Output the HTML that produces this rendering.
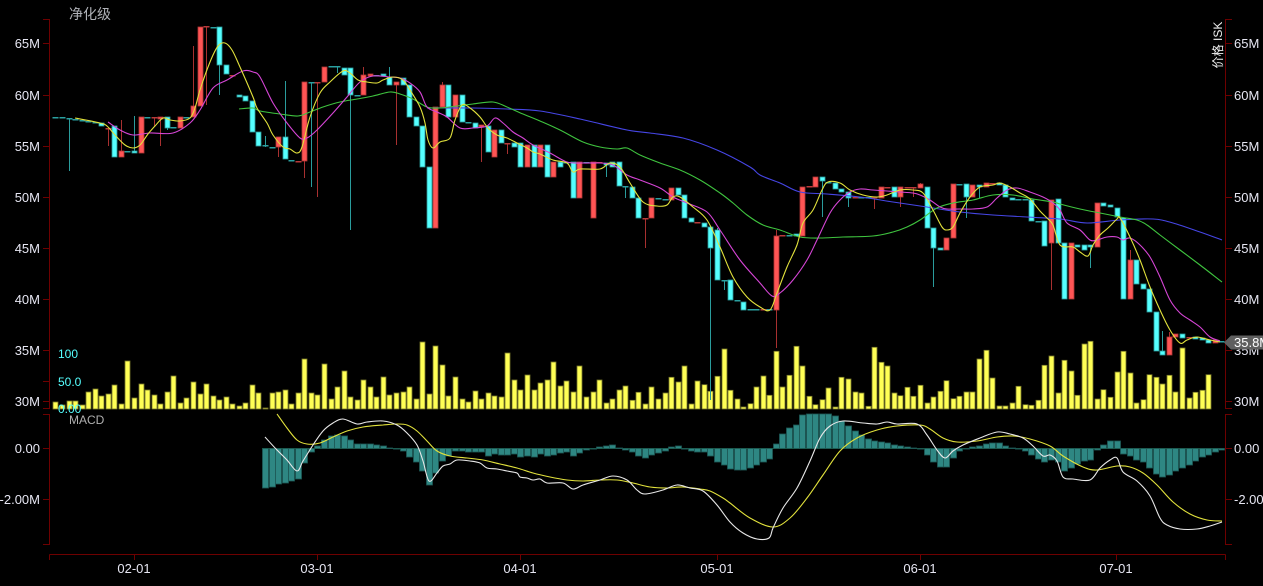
<!DOCTYPE html>
<html><head><meta charset="utf-8">
<style>
html,body{margin:0;padding:0;background:#000;width:1263px;height:586px;overflow:hidden}
svg{display:block}
text{font-family:"WenQuanYi Zen Hei","Liberation Sans","Noto Sans CJK SC",sans-serif;}
</style></head><body>
<svg id="c" width="1263" height="586" viewBox="0 0 1263 586" xmlns="http://www.w3.org/2000/svg">
<rect width="1263" height="586" fill="#000"/>
<g id="vol"></g>
<g id="hist"></g>
<g id="macdl" fill="none"></g>
<g id="cand"></g>
<g id="ma" fill="none"></g>
<g id="axes" stroke="#6e0000" stroke-width="1" fill="none">
  <path d="M49.5 19V409M1225.5 19V409M49.5 414V545M1225.5 414V545M49.5 554.5H1225.5"/>
  <path d="M43 19.5H49.5M43 43.5H49.5M43 95.5H49.5M43 146.5H49.5M43 197.5H49.5M43 248.5H49.5M43 299.5H49.5M43 350.5H49.5M43 381.5H49.5M43 401.5H49.5M43 408.5H49.5"/>
  <path d="M1225.5 19.5H1232M1225.5 43.5H1232M1225.5 95.5H1232M1225.5 146.5H1232M1225.5 197.5H1232M1225.5 248.5H1232M1225.5 299.5H1232M1225.5 350.5H1232M1225.5 401.5H1232M1225.5 408.5H1232"/>
  <path d="M43 414.5H49.5M43 448.5H49.5M43 499.5H49.5M43 544.5H49.5M1225.5 414.5H1232M1225.5 448.5H1232M1225.5 499.5H1232M1225.5 544.5H1232"/>
  <path d="M49.5 554.5V560M134.5 554.5V560M317.5 554.5V560M520.5 554.5V560M717.5 554.5V560M920.5 554.5V560M1116.5 554.5V560M1225.5 554.5V560"/>
</g>
<g font-size="13" fill="#e6e6f2" text-anchor="end">
  <text x="40" y="48">65M</text><text x="40" y="100">60M</text><text x="40" y="151">55M</text>
  <text x="40" y="202">50M</text><text x="40" y="253">45M</text><text x="40" y="304">40M</text>
  <text x="40" y="355">35M</text><text x="40" y="406">30M</text>
  <text x="40" y="453">0.00</text><text x="40" y="504">-2.00M</text>
</g>
<g font-size="13" fill="#e6e6f2">
  <text x="1234" y="48">65M</text><text x="1234" y="100">60M</text><text x="1234" y="151">55M</text>
  <text x="1234" y="202">50M</text><text x="1234" y="253">45M</text><text x="1234" y="304">40M</text>
  <text x="1234" y="355">35M</text><text x="1234" y="406">30M</text>
  <text x="1234" y="453">0.00</text><text x="1234" y="504">-2.00M</text>
</g>
<g font-size="12" fill="#55ffff">
  <text x="58" y="358">100</text><text x="58" y="386">50.0</text><text x="58" y="413">0.00</text>
</g>
<g font-size="13" fill="#e6e6f2" text-anchor="middle">
  <text x="134" y="573">02-01</text><text x="317" y="573">03-01</text><text x="520" y="573">04-01</text>
  <text x="717" y="573">05-01</text><text x="920" y="573">06-01</text><text x="1116" y="573">07-01</text>
</g>
<text x="69" y="19" font-size="14" fill="#b0b2b8">净化级</text>
<text x="69" y="424" font-size="12" fill="#b0b0b0">MACD</text>
<text transform="translate(1222,45) rotate(-90)" font-size="12" fill="#f0f0f0" text-anchor="middle">价格 ISK</text>
<polygon points="1224,342.5 1231,335.5 1263,335.5 1263,349.5 1231,349.5" fill="#5f5f5f"/>
<text x="1234" y="347" font-size="13" fill="#ffffff">35.8M</text>
</svg>
<script>
const NS="http://www.w3.org/2000/svg";
function el(t,a,p){const e=document.createElementNS(NS,t);for(const k in a)e.setAttribute(k,a[k]);p.appendChild(e);return e;}
const X=i=>Math.round(134+i*6.55)+0.5;

// candles [i, open, close, high, low, flag]
const C=[
[-12,117,118],[-11,117,118],[-10,118,119,118,171],[-9,119,120],[-8,120,121],[-7,121,122],[-6,122,123],[-5,123,126],
[-4,129,128,128,146],[-3,126,157],[-2,157,151,120,157],[-1,151,151],[0,151,153,116,153],[1,153,117],[2,117,117],
[3,118,117,117,127],[4,119,117,117,146],[5,117,128,117,130],[6,127,127],[7,128,117],[8,117,117],[9,117,106,46,117],
[10,106,27],[11,27,26,26,105],[12,27,27],[13,27,65,27,95],[14,65,74],[15,75,75,null,null,'r'],[16,95,97],[17,96,101],
[18,101,132],[19,132,146],[20,145,146,136,147],[21,147,147],[22,147,137,137,157],[23,137,159,81,159],[24,160,160],
[25,161,161,null,null,'r'],[26,161,82,82,178],[27,82,83,82,187],[28,83,82,82,197],[29,82,67],[30,66,66],[31,66,67,66,73],
[32,68,75],[33,68,95,68,230],[34,95,95],[35,95,75,67,95],[36,76,74],[37,75,75],[38,74,76],[39,77,85,67,85],
[40,85,82,82,145],[41,78,85],[42,85,117],[43,117,126],[44,126,167],[45,167,228],[46,228,107],[47,107,85,82,107],
[48,85,117],[49,117,95],[50,95,122],[51,122,122],[52,123,128],[53,127,125,125,162],[54,126,152],[55,157,130],
[56,130,143],[57,144,143,143,154],[58,143,147],[59,143,167],[60,167,145],[61,145,167],[62,167,145],[63,145,177],
[64,177,162],[65,162,167],[66,162,162],[67,162,198],[68,198,162],[69,162,163],[70,218,162],[71,162,162,null,null,'r'],
[72,163,165,163,177],[73,162,167],[74,162,186],[75,186,186,186,198],[76,187,198],[77,198,218],[78,219,218,218,248],
[79,218,198],[80,198,199],[81,199,199],[82,200,188],[83,188,195],[84,195,218],[85,218,222],[86,222,222,null,null,'r'],
[87,223,227],[88,227,248,227,400],[89,230,280,228,280],[90,280,281,280,290],[91,280,300],[92,300,300],[93,302,310],
[94,309,309],[95,309,309],[96,309,309,null,null,'r'],[97,309,309],[98,310,236,230,348],[99,235,235,null,null,'r'],
[100,235,235],[101,234,236],[102,236,187],[103,186,186,null,null,'r'],[104,187,177],[105,177,181,177,217],[106,182,182],
[107,183,189],[108,189,192],[109,192,198,192,207],[110,197,197,null,null,'r'],[111,197,197],[112,197,198],
[113,198,197,197,209],[114,198,187],[115,187,187,null,null,'r'],[116,187,197],[117,197,187,187,207],
[118,187,187,null,null,'r'],[119,188,187,187,197],[120,188,184,183,188],[121,187,228],[122,228,248,228,287],
[123,248,250],[124,250,238],[125,238,184],[126,184,184],[127,184,197,184,218],[128,197,185],[129,185,187,185,198],
[130,187,183],[131,183,183,null,null,'r'],[132,183,185],[133,185,197],[134,198,200],[135,199,199],[136,199,199],
[137,200,221],[138,221,221],[139,221,246],[140,243,200,200,290],[141,199,243],[142,243,299],[143,299,243],
[144,245,247],[145,245,250],[146,245,247,245,268],[147,247,203],[148,203,206],[149,205,207],[150,208,217],
[151,218,299],[152,299,260,250,299],[153,260,284],[154,284,289],[155,289,312],[156,312,351],[157,351,355,331,355],
[158,355,337,332,355],[159,337,334],[160,334,338],[161,338,337],[162,337,339],[163,338,340],[164,340,343],
[165,343,340],[166,341,342]
];
const cg=document.getElementById('cand');
C.forEach(c=>{
  const [i,o,cl]=c; let h=c[3],l=c[4]; const f=c[5];
  const top=Math.min(o,cl), bot=Math.max(o,cl);
  if(h==null)h=top; if(l==null)l=bot;
  const x=X(i);
  let up = cl<o; if(o===cl) up = (f==='r');
  const wick = up?'#a83030':'#2a9c9c';
  if(h<top||l>bot) el('line',{x1:x,y1:h,x2:x,y2:l,stroke:wick,'stroke-width':1},cg);
  const ht=Math.max(bot-top,1);
  if(bot-top<2){
    el('rect',{x:x-3,y:top,width:6,height:Math.max(ht,1.5),fill:up?'#b83a3a':'#2aa0a0'},cg);
  } else {
    el('rect',{x:x-2.5,y:top,width:5,height:ht,fill:up?'#ff5555':'#55ffff',stroke:up?'#b03535':'#2a9a9a','stroke-width':0.8},cg);
  }
});

// volume tops, i from -12
const V=[402,405,401,401,405,392,389,396,394,385,404,361,398,384,390,395,404,392,376,403,398,382,394,384,396,400,397,404,406,403,
385,393,408,393,392,390,404,393,359,393,395,364,399,387,371,397,400,380,387,397,377,395,393,392,387,399,342,394,346,365,
396,377,399,402,391,399,393,396,397,353,380,390,375,390,383,380,362,386,381,392,366,397,392,380,403,399,390,386,
400.3,392.3,404,387,399,393,377.3,382,366,404,381,384.7,391.3,376.3,349,390.3,399,407,403.7,387,376,395.3,351.3,387,375.3,346.3,366,
396.3,404.7,399.7,388,407,377.3,379,392,393,406.3,347.3,362.3,366,393,395.7,387.3,396.3,385.3,403,397,391.3,380.7,398.7,396.3,392,392,
359,350.3,378,406,406,403,386.3,404.7,405.3,400.3,365.3,356,393,360.3,371,395.3,344,341.3,399,389.7,397.3,372,351.3,373,403,399.7,
374.7,377.3,384,375.3,392,348,398,392.3,390.3,374.7];
const vg=document.getElementById('vol');
V.forEach((t,k)=>{const i=k-12;const x=X(i);el('rect',{x:x-2.5,y:t,width:5,height:Math.max(409-t,1),fill:'#ffff55',stroke:'#77772a','stroke-width':0.8},vg);});

// MACD histogram i from 20
const H=[488,487,484,483,481,479,463,452,446,440,436,435,436,440,444,444,444,445,446,448,448.5,451,457,462,471,485,473,461,456,451,
451,452,452,452,456,454,455,455,454,457,456,457,454,456,455,453,452,456,453,450,449,447,446,445,448,450,452,456,458,455,453,451,447,
446,449,451,452,452,456,462,465,469,470,470,468,465,462,459,444,434,428,425,415,414,414,414,414,416,421,426,431,435,439,441,442,443,
445,446,447,448,448.5,455,462,467,467,458,451,449,447,446,444,443,443,446,448,449,451,455,459,462,460,462,471,468,464,461,460,450,445,
441,441,454,456,460,462,468,474,477,475,471,468,465,461,457,455,452,450];
const hg=document.getElementById('hist');
el('line',{x1:262,y1:448.5,x2:1224,y2:448.5,stroke:'#145a14','stroke-width':1},hg);
H.forEach((v,k)=>{const i=k+20;const x=X(i);const t=Math.min(v,448.5),b=Math.max(v,448.5);
  el('rect',{x:x-3,y:t,width:6,height:Math.max(b-t,0.6),fill:'#2e8783',stroke:'#1d5856','stroke-width':0.8},hg);});

function path(p){let d=`M${p[0][0]},${p[0][1]}`;for(let i=0;i<p.length-1;i++){const p0=p[i-1]||p[i],p1=p[i],p2=p[i+1],p3=p[i+2]||p2;
 d+=` C${(p1[0]+(p2[0]-p0[0])/6).toFixed(1)},${(p1[1]+(p2[1]-p0[1])/6).toFixed(1)} ${(p2[0]-(p3[0]-p1[0])/6).toFixed(1)},${(p2[1]-(p3[1]-p1[1])/6).toFixed(1)} ${p2[0]},${p2[1]}`;}return d;}

const mg=document.getElementById('ma');
const BLUE=[[427,108],[473,108],[507,109],[540,111],[580,119],[627,130],[650,133],[683,138],[717,150],[750,167],[760,175],[780,183],[800,192],[827,194],[860,197],[893,202],[927,207],[960,212],[993,215],[1027,217],[1060,219],[1087,223],[1120,220],[1153,219],[1173,223],[1200,232],[1222,240]];
const GREEN=[[239,109],[253,108],[260,111],[280,114],[298,116],[310,112],[323,107],[340,102],[357,99],[373,96],[390,92],[400,94],[413,99],[427,107],[440,108],[457,106],[473,104],[493,102],[507,107],[523,114],[540,121],[560,130],[583,142],[600,147],[617,149],[627,148],[640,155],[660,163],[680,170],[700,180],[720,193],[733,203],[747,215],[763,225],[780,230],[800,237],[820,238],[843,237],[873,236],[893,232],[907,227],[920,220],[937,208],[953,203],[973,200],[993,195],[1013,195],[1033,199],[1053,202],[1060,204],[1080,209],[1100,213],[1120,217],[1137,220],[1147,225],[1160,235],[1180,250],[1200,265],[1222,282]];
const MAG=[[108,122],[120,130],[133,135],[150,133],[173,133],[190,123],[200,110],[213,88],[227,80],[243,71],[253,72],[260,77],[273,103],[287,123],[300,138],[307,138],[317,130],[333,113],[347,97],[360,82],[373,76],[390,77],[400,78],[410,83],[420,92],[427,107],[437,112],[447,117],[460,128],[473,128],[487,126],[495,118],[503,123],[513,132],[523,138],[533,145],[550,153],[567,162],[583,163],[600,163],[613,165],[627,175],[640,180],[660,188],[673,197],[687,203],[707,212],[720,230],[740,260],[760,283],[772,296],[780,293],[793,280],[807,260],[817,240],[830,213],[840,200],[850,192],[860,189],[873,190],[887,191],[900,192],[913,193],[920,195],[930,200],[940,207],[947,209],[960,209],[973,209],[987,207],[997,198],[1007,190],[1017,188],[1030,192],[1043,197],[1053,203],[1060,210],[1067,223],[1080,230],[1090,240],[1097,240],[1107,237],[1117,237],[1123,240],[1130,238],[1140,245],[1150,257],[1160,277],[1170,300],[1180,313],[1190,320],[1200,327],[1210,337],[1220,341]];
const YEL=[[75,118],[100,123],[107,126],[115,135],[125,145],[133,148],[140,145],[148,134],[155,126],[163,118],[170,120],[180,121],[190,118],[195,108],[200,90],[210,62],[218,46],[225,43],[232,50],[240,67],[253,97],[257,108],[267,123],[273,135],[283,147],[290,149],[297,153],[302,147],[310,117],[320,93],[330,82],[343,71],[350,73],[358,80],[367,82],[377,83],[383,80],[393,77],[403,80],[410,90],[420,107],[425,123],[428,140],[433,148],[440,142],[450,138],[455,120],[462,105],[470,108],[480,117],[488,128],[497,135],[507,138],[517,143],[527,148],[533,152],[540,154],[553,160],[567,163],[573,172],[580,169],[600,169],[610,163],[620,167],[630,183],[643,202],[657,206],[667,205],[673,197],[680,197],[693,207],[707,220],[720,247],[733,277],[747,297],[760,307],[770,310],[777,293],[787,267],[797,245],[803,223],[813,210],[822,190],[828,182],[840,183],[850,190],[863,195],[877,197],[887,195],[900,190],[913,190],[923,193],[933,210],[942,227],[947,230],[953,227],[960,213],[970,197],[980,187],[993,185],[1000,183],[1010,187],[1020,193],[1030,199],[1040,211],[1047,218],[1053,225],[1060,245],[1073,247],[1080,252],[1088,256],[1093,245],[1100,235],[1108,228],[1117,219],[1120,218],[1130,237],[1140,260],[1150,287],[1160,310],[1170,330],[1180,343],[1187,340],[1197,337],[1210,340],[1220,342]];
el('path',{d:path(BLUE),stroke:'#4646e6','stroke-width':1.1},mg);
el('path',{d:path(GREEN),stroke:'#3fc43f','stroke-width':1.1},mg);
el('path',{d:path(MAG),stroke:'#d645d6','stroke-width':1.1},mg);
el('path',{d:path(YEL),stroke:'#e2e23c','stroke-width':1.1},mg);

const lg=document.getElementById('macdl');
const MW=[[265,437],[277,450],[287,460],[297,471],[303,461],[313,445],[323,431],[333,423],[343,419],[357,424],[367,422],[383,421],[397,425],[407,433],[417,445],[423,461],[429,481],[437,473],[443,466],[450,464],[457,460],[470,461],[480,463],[487,468],[497,469],[507,471],[517,473],[520,477],[527,478],[533,480],[540,479],[547,483],[563,483],[573,489],[583,485],[600,480],[613,476],[627,480],[637,490],[645,494],[663,490],[677,485],[690,488],[703,491],[717,505],[730,522],[743,533],[757,539],[769,538],[773,528],[783,508],[797,488],[810,461],[820,438],[830,426],[843,421],[863,423],[877,424],[887,422],[897,424],[917,424],[927,435],[937,450],[945,458],[953,451],[963,445],[980,438],[997,432],[1010,434],[1023,438],[1033,446],[1043,456],[1050,455],[1057,461],[1063,477],[1073,479],[1090,480],[1100,468],[1110,460],[1117,458],[1123,472],[1137,481],[1150,496],[1160,518],[1167,525],[1180,529],[1197,529],[1210,526],[1222,522]];
const MY=[[277,414],[287,428],[297,440],[307,444],[320,443],[333,437],[347,431],[363,427],[383,425],[397,424],[407,425],[417,431],[427,441],[437,451],[450,456],[467,458],[483,460],[500,464],[517,468],[533,473],[550,477],[567,480],[583,481],[600,480],[617,480],[633,483],[650,487],[667,488],[683,487],[700,489],[710,491],[723,498],[730,503],[750,518],[773,527],[790,518],[807,498],[823,475],[840,451],[857,438],[877,430],[897,426],[920,425],[930,429],[943,438],[957,442],[977,441],[997,437],[1013,436],[1030,439],[1050,446],[1063,456],[1083,467],[1097,470],[1117,466],[1130,467],[1143,473],[1157,485],[1173,502],[1190,514],[1207,520],[1222,521]];
el('path',{d:path(MY),stroke:'#e2e23c','stroke-width':1.1},lg);
el('path',{d:path(MW),stroke:'#e8e8e8','stroke-width':1.1},lg);
</script>
</body></html>
